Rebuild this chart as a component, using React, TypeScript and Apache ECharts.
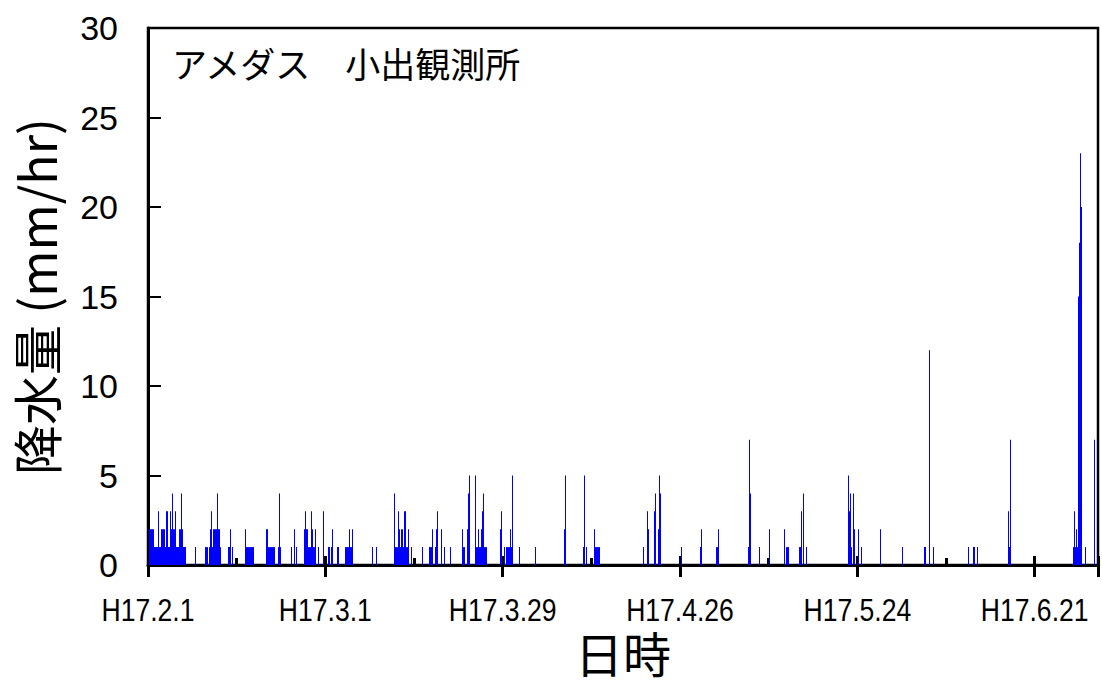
import React, { useEffect, useRef } from "react";
import * as echarts from "echarts";

// Hourly rainfall runs: [start hour since H17.2.1 00:00, number of hours, mm/hr]
const runsFeb = [
  [4, 140, 1], [4, 19, 2], [39, 1, 3], [49, 15, 2], [67, 1, 3], [71, 1, 3], [83, 3, 3], [86, 5, 2],
  [92, 1, 4], [93, 8, 2], [103, 1, 3], [117, 8, 2], [126, 1, 4], [127, 6, 2], [179, 1, 1],
  [215, 12, 1], [233, 42, 1], [234, 4, 2], [239, 1, 3], [248, 24, 2], [262, 1, 4], [304, 6, 1],
  [311, 1, 2], [320, 1, 1], [368, 1, 2], [373, 28, 1], [446, 34, 1], [446, 10, 2], [494, 11, 1],
  [496, 1, 4], [541, 1, 1], [553, 1, 2], [559, 1, 1], [590, 48, 1], [590, 16, 2], [596, 1, 3],
  [619, 6, 2], [619, 1, 3], [632, 1, 2], [646, 1, 1], [663, 1, 3],
];
const runsMar = [
  [682, 6, 1], [692, 9, 1], [697, 1, 2], [718, 6, 1], [745, 28, 1], [760, 6, 2], [772, 1, 2],
  [848, 1, 1], [863, 1, 1], [931, 59, 1], [931, 1, 4], [946, 1, 3], [951, 1, 2], [958, 1, 2],
  [963, 1, 2], [971, 8, 3], [984, 1, 2], [995, 1, 1], [1037, 1, 1], [1066, 12, 1], [1078, 1, 2],
  [1086, 8, 1], [1090, 1, 2], [1094, 1, 3], [1109, 5, 1], [1109, 1, 2], [1120, 1, 1], [1145, 1, 1],
  [1188, 13, 1], [1188, 1, 2], [1207, 15, 1], [1207, 8, 2], [1211, 1, 4], [1215, 1, 5],
  [1240, 44, 1], [1240, 1, 5], [1252, 1, 2], [1263, 1, 2], [1266, 8, 3], [1270, 1, 4],
  [1332, 9, 1], [1332, 1, 2], [1336, 1, 3],
];
const runsApr = [
  [1348, 1, 1], [1357, 22, 1], [1373, 1, 2], [1379, 1, 3], [1381, 1, 5], [1407, 1, 1],
  [1466, 1, 1], [1577, 1, 2], [1581, 1, 5], [1649, 1, 1], [1653, 1, 5], [1661, 1, 1],
  [1691, 20, 1], [1691, 1, 2], [1876, 5, 1], [1891, 1, 3], [1894, 1, 2], [1918, 8, 1],
  [1918, 1, 3], [1921, 1, 4], [1931, 12, 1], [1932, 1, 2], [1936, 1, 5], [1940, 1, 4],
];
const runsMay = [
  [2020, 1, 1], [2091, 5, 1], [2095, 1, 2], [2152, 13, 1], [2160, 1, 2], [2273, 1, 1],
  [2279, 1, 7], [2283, 1, 4], [2315, 1, 1], [2352, 1, 2], [2409, 5, 1], [2409, 1, 2],
  [2419, 10, 1], [2468, 11, 1], [2473, 1, 3], [2481, 1, 4], [2492, 6, 1], [2654, 15, 1],
  [2654, 1, 5], [2657, 1, 3], [2662, 1, 4], [2672, 1, 4], [2676, 1, 2],
];
const runsJun = [
  [2689, 1, 2], [2700, 1, 1], [2772, 1, 2], [2859, 1, 1], [2941, 6, 1], [2960, 1, 12],
  [2976, 1, 1], [3108, 1, 1], [3127, 5, 1], [3142, 1, 1], [3258, 1, 3], [3262, 6, 1], [3267, 1, 7],
];
const runsLate = [
  [3504, 19, 1], [3509, 1, 3], [3517, 1, 2], [3523, 4, 15], [3527, 1, 18], [3531, 1, 23],
  [3534, 1, 20], [3535, 5, 7], [3551, 1, 1], [3586, 1, 7],
];

const xTickLabels = ["H17.2.1", "H17.3.1", "H17.3.29", "H17.4.26", "H17.5.24", "H17.6.21"];
const X_STEP = 672; // 28 days in hours
const X_MAX = 3600; // 150 days
const Y_MAX = 30;
const Y_STEP = 5;

const NUM_FONT = "'Liberation Sans', Arial, sans-serif";
const JP_FONT = "'Noto Sans CJK JP', sans-serif";

export default function App() {
  const ref = useRef<HTMLDivElement>(null);
  useEffect(() => {
    document.body.style.margin = "0";
    const chart = echarts.init(ref.current!, null, { renderer: "svg" });
    const data = [...runsFeb, ...runsMar, ...runsApr, ...runsMay, ...runsJun, ...runsLate];
    const annotation = {
      type: "text", left: 172, top: 45,
      style: { text: "アメダス\u3000小出観測所", font: `35px ${JP_FONT}`, fill: "#000" },
    };
    chart.setOption({
      animation: false,
      grid: {
        left: 148, top: 28, width: 950, height: 537,
        show: true, borderColor: "#000", borderWidth: 2.5, backgroundColor: "transparent",
      },
      xAxis: [
        {
          type: "value", min: 0, max: X_MAX, interval: X_STEP, position: "bottom",
          name: "日時", nameLocation: "middle", nameGap: 63,
          nameTextStyle: { fontFamily: JP_FONT, fontSize: 48, lineHeight: 48, color: "#000" },
          axisLine: { show: true, lineStyle: { color: "#000", width: 3 } },
          axisTick: { show: true, inside: false, length: 12, lineStyle: { color: "#000", width: 3 } },
          axisLabel: { show: false },
          splitLine: { show: false },
        },
        {
          type: "value", min: 0, max: X_MAX, interval: X_STEP, position: "bottom",
          axisLine: { show: false },
          axisTick: { show: true, inside: true, length: 9, lineStyle: { color: "#000", width: 3 } },
          minorTick: { show: true, splitNumber: 2, length: 7, lineStyle: { color: "#000", width: 3 } },
          axisLabel: { show: false },
          splitLine: { show: false },
        },
      ],
      yAxis: {
        type: "value", min: 0, max: Y_MAX, interval: Y_STEP,
        name: "降水量 (mm/hr)", nameLocation: "middle", nameGap: 88, nameRotate: 90,
        nameTextStyle: { fontFamily: JP_FONT, fontSize: 50, color: "#000" },
        axisLine: { show: true, lineStyle: { color: "#000", width: 3 } },
        axisTick: { show: true, inside: true, length: 13, lineStyle: { color: "#000", width: 2 } },
        axisLabel: { margin: 30, fontFamily: NUM_FONT, fontSize: 34, color: "#000" },
        splitLine: { show: false },
      },
      graphic: [annotation],
      series: [
        {
          type: "custom",
          xAxisIndex: 0,
          data,
          encode: { x: 0, y: 2 },
          clip: true,
          renderItem: (_params: any, api: any) => {
            const start = api.value(0);
            const hours = api.value(1);
            const mm = api.value(2);
            const p0 = api.coord([start, 0]);
            const p1 = api.coord([start + hours, mm]);
            const x = Math.round(p0[0]);
            const w = Math.max(1, Math.round(p1[0]) - x);
            return {
              type: "rect",
              shape: { x, y: p1[1], width: w, height: p0[1] - p1[1] },
              style: { fill: "#0000ff" },
            };
          },
        },
      ],
    });
    // Narrow (horizontally condensed) x tick labels, placed at the axis' own tick positions
    const baseY = chart.convertToPixel({ yAxisIndex: 0 }, 0) as number;
    const labelEls = xTickLabels.map((t, i) => ({
      type: "text",
      x: chart.convertToPixel({ xAxisIndex: 0 }, i * X_STEP) as number,
      y: baseY + 29,
      scaleX: 0.83,
      style: {
        text: t, font: `32px ${NUM_FONT}`, fill: "#000", align: "center", verticalAlign: "top",
      },
    }));
    chart.setOption({ graphic: [annotation, ...labelEls] });
    return () => chart.dispose();
  }, []);
  return <div ref={ref} style={{ width: 1102, height: 686 }} />;
}
